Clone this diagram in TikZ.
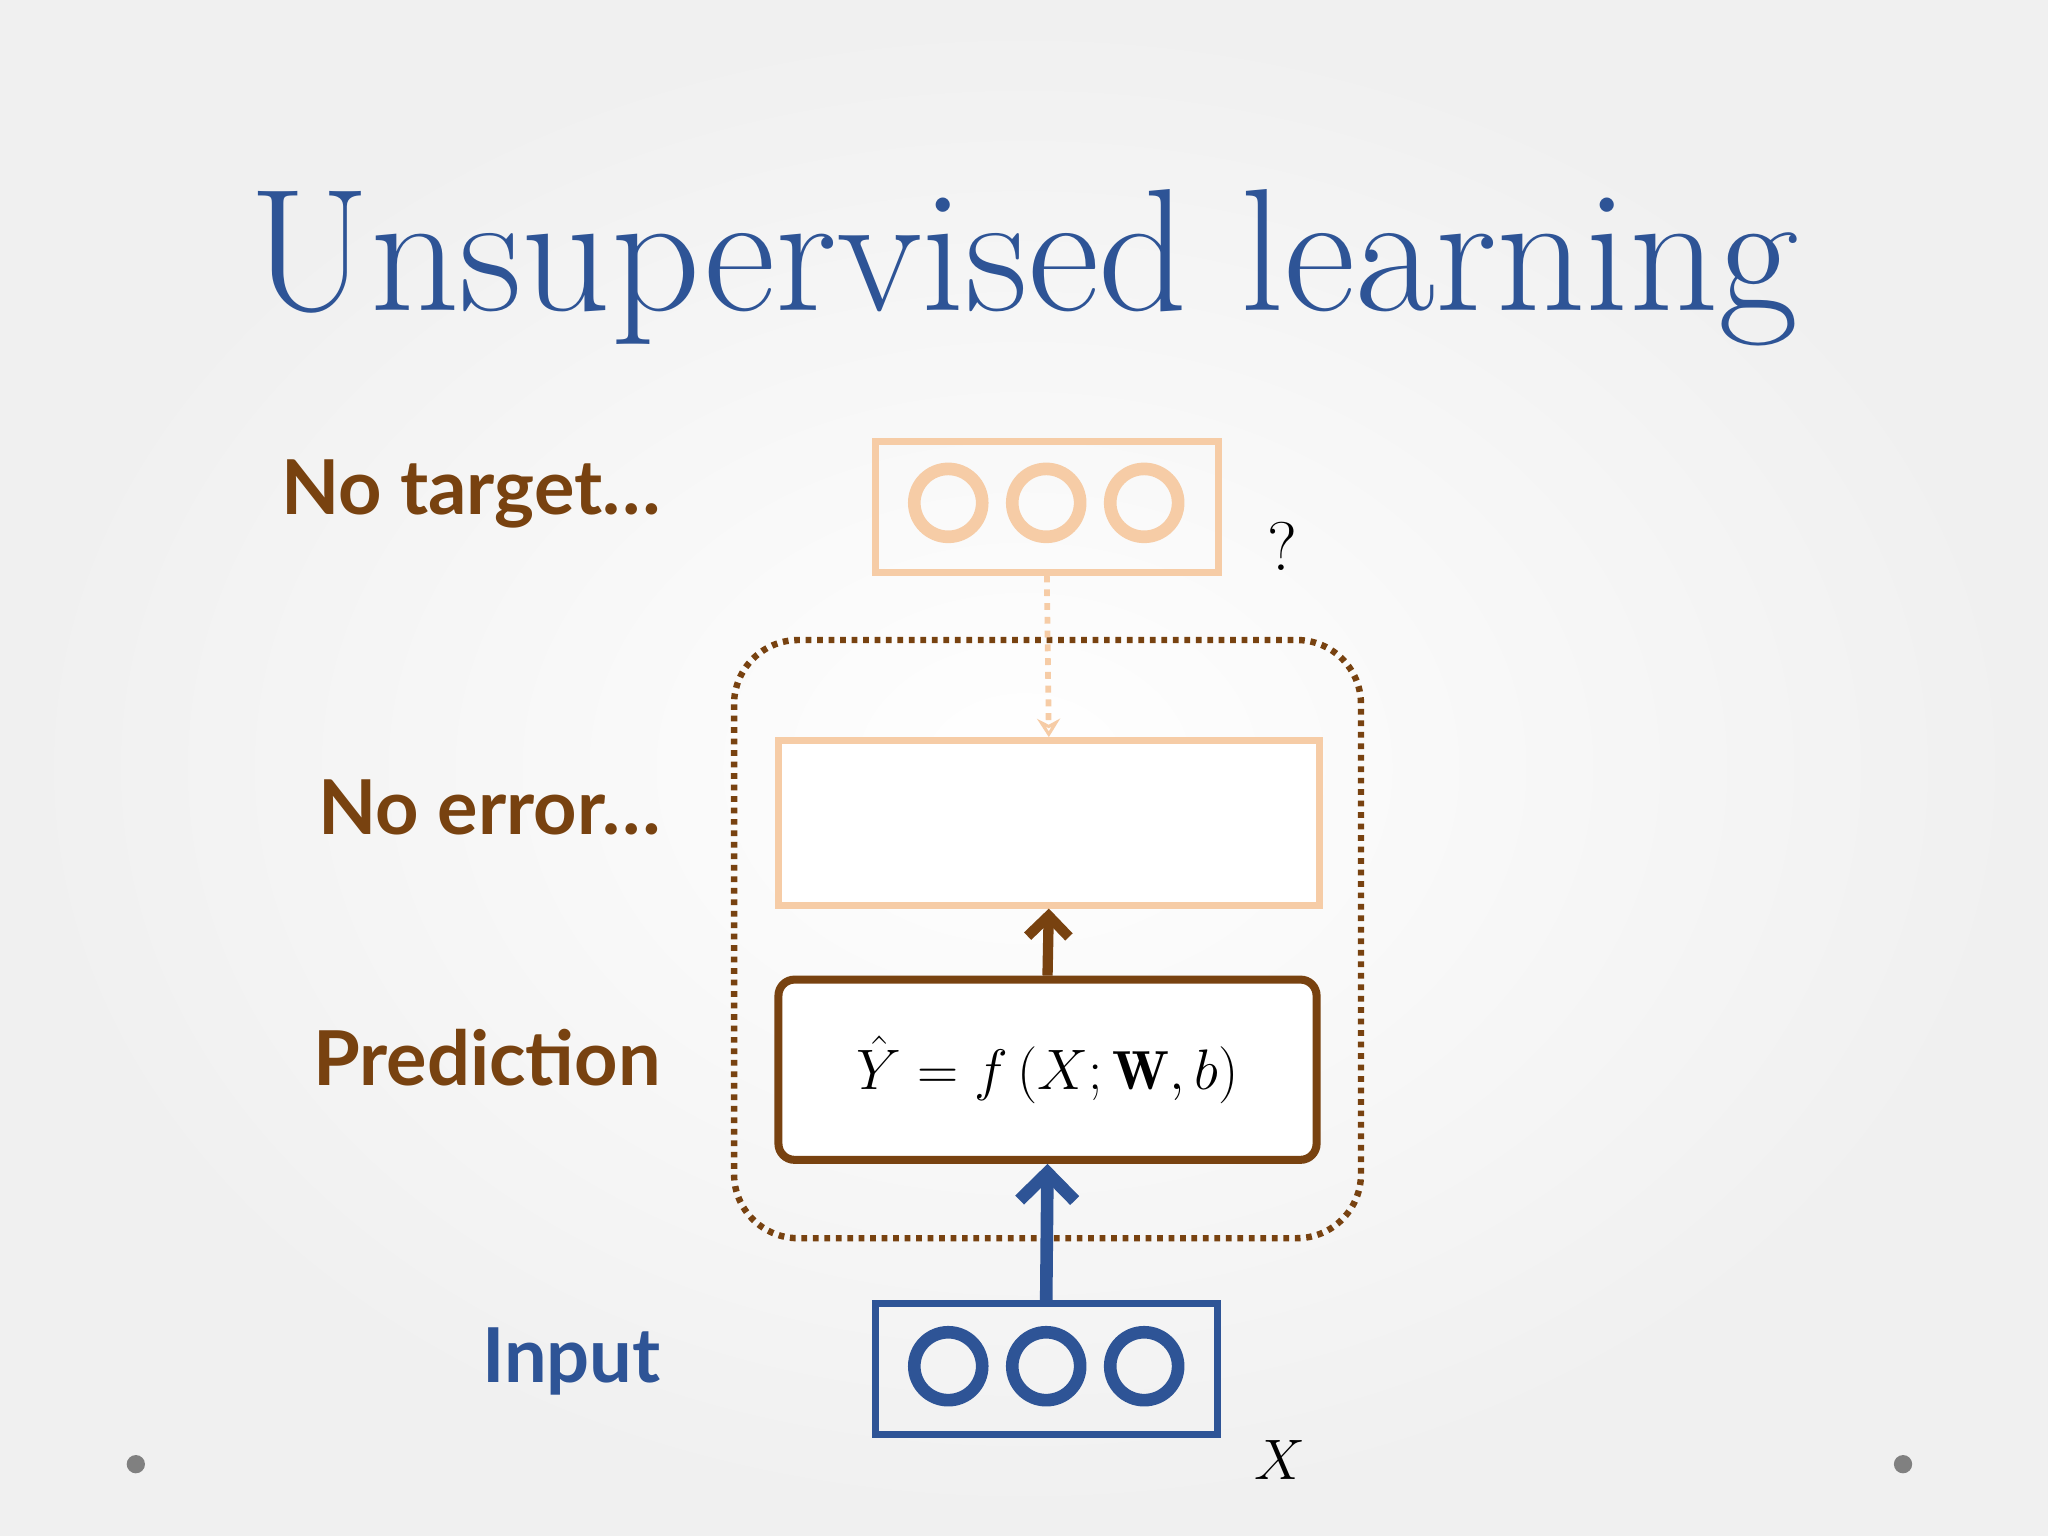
\documentclass[tikz,border=0pt]{standalone}
\usepackage{fontspec}
\usepackage{amsmath}
\newfontfamily\labfont{Lato}
\usetikzlibrary{arrows.meta}
\definecolor{tblue}{RGB}{46,84,150}
\definecolor{tbrown}{RGB}{120,66,16}
\definecolor{tpeach}{RGB}{246,204,166}
\tikzset{
  lab/.style={font=\labfont\bfseries\fontsize{33}{38}\selectfont, text=tbrown, anchor=east},
  circ/.style={line width=5.5pt},
}
\begin{document}
\begin{tikzpicture}[x=0.02cm,y=-0.02cm]
\shade[inner color=white, outer color=black!6] (0,0) rectangle (1568,1176);
\useasboundingbox (0,0) rectangle (1568,1176);
\node[text=tblue, font=\fontsize{76}{84}\selectfont] (title) at (784,205) {Unsupervised learning};
\node[lab] (l1) at (512,378) {No target\ldots};
\node[lab] (l2) at (512,618) {No error\ldots};
\node[lab] (l3) at (512,810) {Prediction};
\node[lab, text=tblue] (l4) at (512,1042) {Input};
% dotted container
\draw[tbrown, line width=2.8pt, dash pattern=on 2.5pt off 2.5pt, rounded corners=28pt] (562,490) rectangle (1042,948);
% target box
\node[draw=tpeach, line width=3pt, minimum width=263*0.02cm, minimum height=100*0.02cm] (tbox) at (801.5,388) {};
\foreach \x in {726,801,876} \draw[tpeach, circ] (\x,385) circle (26);
\node[font=\fontsize{30}{30}\selectfont] (q) at (982,418) {?};
% error box
\node[draw=tpeach, line width=3pt, fill=white, minimum width=414*0.02cm, minimum height=126*0.02cm] (ebox) at (803,630) {};
\draw[tpeach, line width=2.5pt, dashed, -{Stealth[length=8pt,width=10pt,open]}] (tbox.south) -- (ebox.north);
% prediction box
\node[draw=tbrown, line width=3.5pt, rounded corners=7pt, fill=white, minimum width=412*0.02cm, minimum height=138*0.02cm, font=\fontsize{24}{28}\selectfont] (pbox) at (802,819) {$\hat{Y}=f\left(X;\mathbf{W},b\right)$};
\draw[tbrown, line width=4.5pt, -{Straight Barb[length=9pt,width=18pt]}] (pbox.north) -- (ebox.south);
% input box
\node[draw=tblue, line width=3pt, minimum width=262*0.02cm, minimum height=100*0.02cm] (ibox) at (801,1048) {};
\foreach \x in {726,801,876} \draw[tblue, circ] (\x,1046) circle (26);
\draw[tblue, line width=5.5pt, -{Straight Barb[length=12pt,width=24pt]}] (ibox.north) -- (pbox.south);
\node[font=\fontsize{38}{38}\selectfont] (xl) at (980,1118) {$X$};
\fill[gray] (104,1121) circle (7) (1457,1121) circle (7);
\end{tikzpicture}
\end{document}
